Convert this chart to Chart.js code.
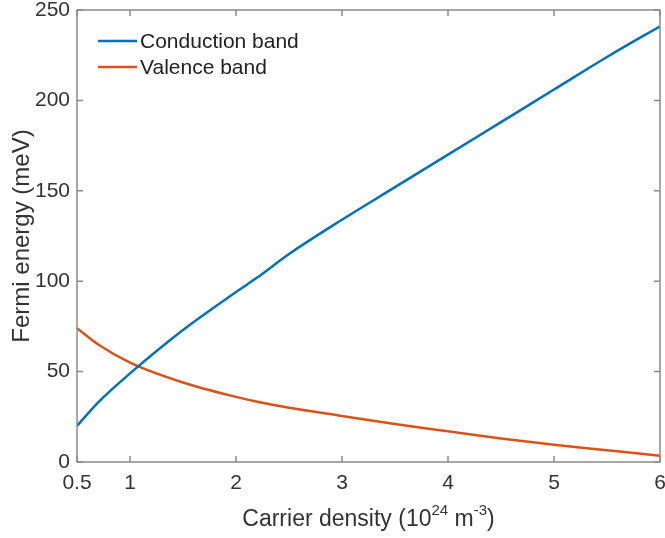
<!DOCTYPE html>
<html>
<head>
<meta charset="utf-8">
<script src="https://cdn.jsdelivr.net/npm/chart.js@4.4.1/dist/chart.umd.min.js"></script>
<style>
  body { margin: 0; background: #fff; }
</style>
</head>
<body>
<canvas id="fermiChart" width="665" height="538"></canvas>
<script>
// carrier density (10^24 m^-3)
var density = [0.5, 0.7, 1.0, 1.5, 2.0, 2.2, 2.5, 3.0, 3.5, 4.0, 4.5, 5.0, 5.5, 6.0];
// Fermi energy (meV)
var conduction = [20, 33, 49, 73, 94, 102, 115, 134, 152, 170, 188, 206, 224, 241];
var valence = [74, 65, 55, 44, 36, 33.3, 30, 25.5, 21, 17, 13, 9.5, 6.5, 3.5];
var xTicks = [0.5, 1, 2, 3, 4, 5, 6];
var yTicks = [0, 50, 100, 150, 200, 250];

function toPoints(xs, ys) {
    var pts = [];
    for (var i = 0; i < xs.length; i++) {
        pts.push({ x: xs[i], y: ys[i] });
    }
    return pts;
}

var fontFam = '"Liberation Sans", Arial, sans-serif';
var axisColor = '#8a8a8a';
var textColor = '#333333';

// box, inward ticks, legend and the x title with superscripts
var boxPlugin = {
    id: 'boxPlugin',
    afterDraw: function (chart) {
        var c = chart.ctx;
        var a = chart.chartArea;
        var xs = chart.scales.x, ys = chart.scales.y;
        c.save();
        c.strokeStyle = axisColor;
        c.lineWidth = 1.5;
        c.strokeRect(a.left, a.top, a.right - a.left, a.bottom - a.top);
        c.beginPath();
        xTicks.forEach(function (t) {
            var px = xs.getPixelForValue(t);
            c.moveTo(px, a.bottom); c.lineTo(px, a.bottom - 6);
            c.moveTo(px, a.top); c.lineTo(px, a.top + 6);
        });
        yTicks.forEach(function (t) {
            var py = ys.getPixelForValue(t);
            c.moveTo(a.left, py); c.lineTo(a.left + 6, py);
            c.moveTo(a.right, py); c.lineTo(a.right - 6, py);
        });
        c.stroke();

        // legend
        var rows = [41, 67];
        c.font = '21px ' + fontFam;
        c.textBaseline = 'middle';
        chart.data.datasets.forEach(function (ds, i) {
            c.strokeStyle = ds.borderColor;
            c.lineWidth = 2.5;
            c.beginPath();
            c.moveTo(98, rows[i]); c.lineTo(137, rows[i]);
            c.stroke();
            c.fillStyle = '#222';
            c.fillText(ds.label, 140, rows[i] + 1);
        });

        // x axis title
        var parts = [['Carrier density (10', 0], ['24', 1], [' m', 0], ['-3', 1], [')', 0]];
        var big = '23px ' + fontFam, small = '15px ' + fontFam;
        var total = 0;
        parts.forEach(function (p) {
            c.font = p[1] ? small : big;
            total += c.measureText(p[0]).width;
        });
        var x = (a.left + a.right) / 2 - total / 2;
        var base = 526;
        c.fillStyle = textColor;
        c.textBaseline = 'alphabetic';
        c.textAlign = 'left';
        parts.forEach(function (p) {
            c.font = p[1] ? small : big;
            c.fillText(p[0], x, p[1] ? base - 11 : base);
            x += c.measureText(p[0]).width;
        });
        c.restore();
    }
};

var ctx = document.getElementById('fermiChart').getContext('2d');
var fermiChart = new Chart(ctx, {
    type: 'scatter',
    data: {
        datasets: [{
            label: 'Conduction band',
            data: toPoints(density, conduction),
            borderColor: '#0072BD',
            showLine: true,
            borderWidth: 2.5,
            pointRadius: 0,
            cubicInterpolationMode: 'monotone'
        }, {
            label: 'Valence band',
            data: toPoints(density, valence),
            borderColor: '#D95319',
            showLine: true,
            borderWidth: 2.5,
            pointRadius: 0,
            cubicInterpolationMode: 'monotone'
        }]
    },
    options: {
        responsive: false,
        animation: false,
        layout: { padding: 0 },
        plugins: {
            legend: { display: false },
            tooltip: { enabled: false }
        },
        scales: {
            x: {
                type: 'linear',
                min: 0.5,
                max: 6,
                afterBuildTicks: function (scale) {
                    scale.ticks = xTicks.map(function (v) { return { value: v }; });
                },
                afterFit: function (scale) {
                    scale.height = 76;
                    scale.paddingRight = 5;
                    scale.paddingLeft = 0;
                },
                grid: { display: false, drawTicks: false },
                border: { display: false },
                ticks: {
                    autoSkip: false,
                    maxRotation: 0,
                    padding: 9,
                    color: textColor,
                    font: { family: fontFam, size: 21 },
                    callback: function (v) { return String(v); }
                }
            },
            y: {
                min: 0,
                max: 250,
                afterBuildTicks: function (scale) {
                    scale.ticks = yTicks.map(function (v) { return { value: v }; });
                },
                afterFit: function (scale) {
                    scale.width = 77;
                    scale.paddingTop = 10;
                    scale.paddingBottom = 0;
                },
                grid: { display: false, drawTicks: false },
                border: { display: false },
                ticks: {
                    padding: 7,
                    color: textColor,
                    font: { family: fontFam, size: 21 }
                },
                title: {
                    display: true,
                    text: 'Fermi energy (meV)',
                    color: textColor,
                    padding: { top: 8, bottom: 0 },
                    font: { family: fontFam, size: 24 }
                }
            }
        }
    },
    plugins: [boxPlugin]
});
</script>
</body>
</html>
